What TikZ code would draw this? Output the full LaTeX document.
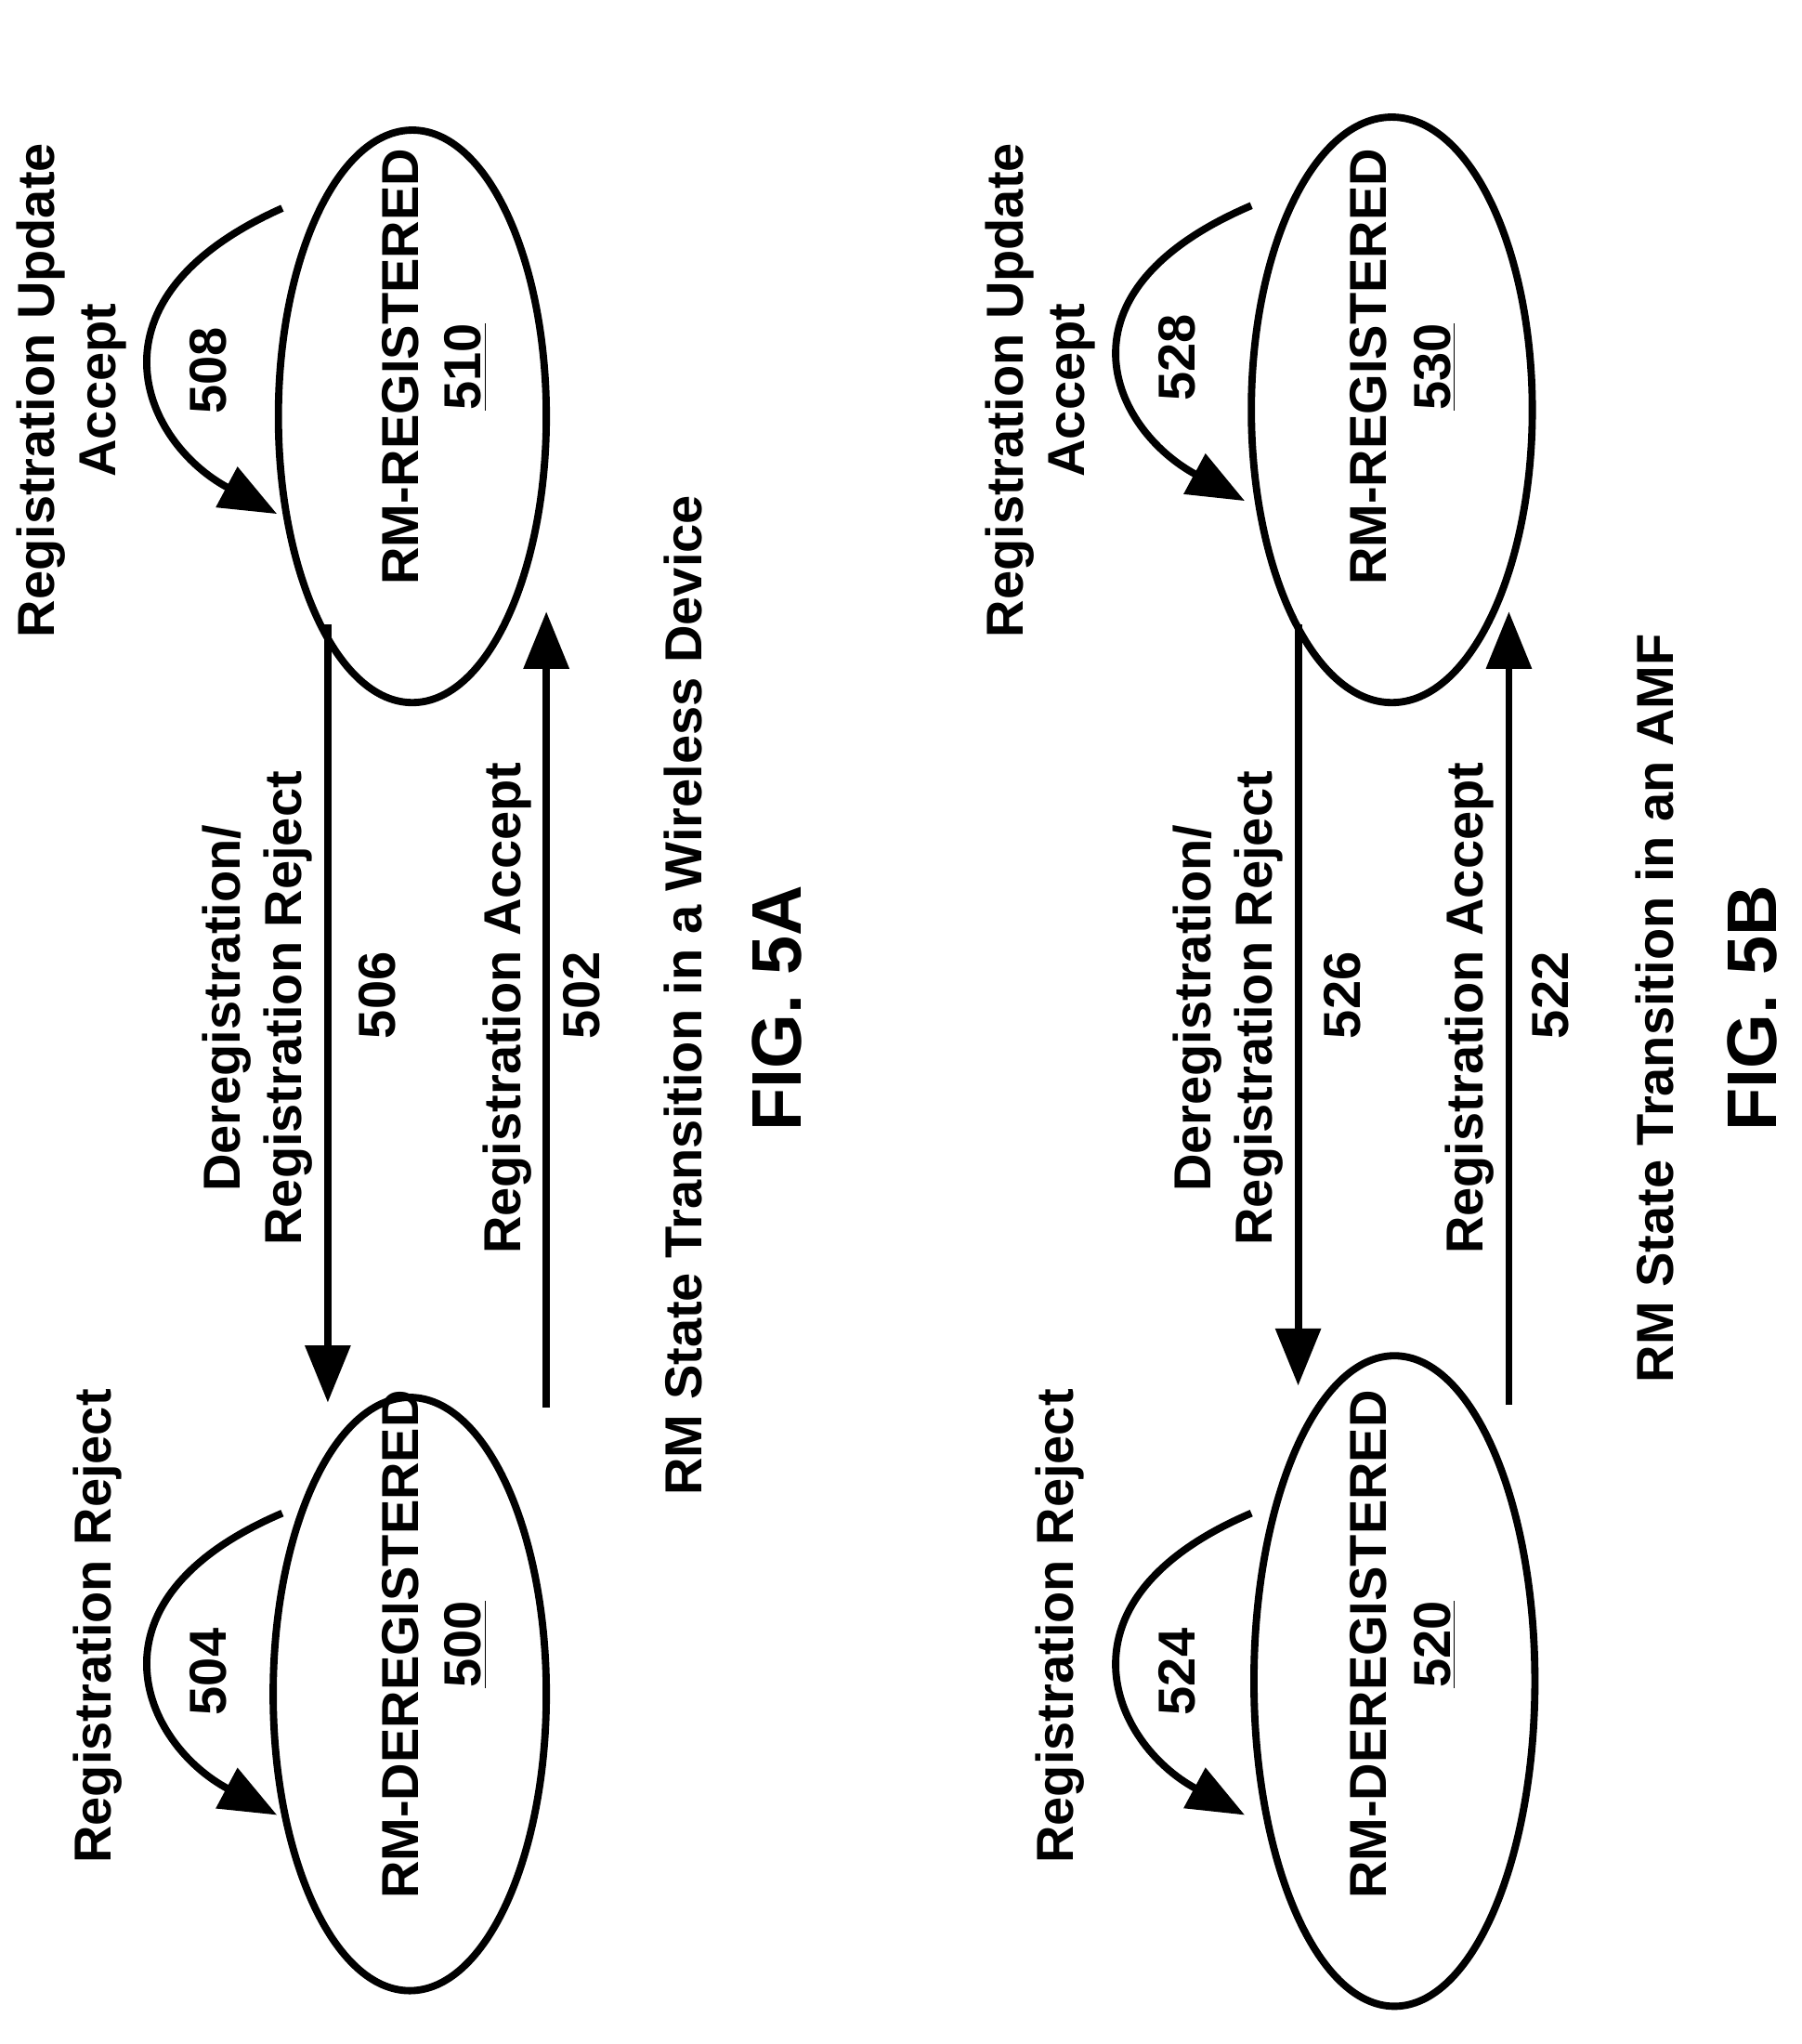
\documentclass[tikz,border=0pt]{standalone}
\usepackage{fontspec}
\setmainfont{Liberation Sans}
\usetikzlibrary{arrows.meta,shapes.geometric}
\begin{document}
\begin{tikzpicture}[x=0.5pt,y=-0.5pt,
  st/.style={draw,ellipse,line width=2.8pt,inner sep=0pt},
  lab/.style={rotate=90,font=\bfseries\fontsize{20}{23.5}\selectfont,align=center,inner sep=0pt},
  fig/.style={rotate=90,font=\bfseries\fontsize{27}{30}\selectfont,inner sep=0pt},
  ar/.style={line width=2.8pt,-{Triangle[length=22pt,width=17pt]}}]
\useasboundingbox (0,0) rectangle (1385,1571);
% FIG 5A
\node[st,minimum width=103pt,minimum height=220pt] (r510) at (317,320) {};
\node[st,minimum width=105pt,minimum height=228pt] (r500) at (315,1302) {};
\node[lab] (t510) at (308,282) {RM-REGISTERED};
\node[lab] (n510) at (358,282) {\underline{510}};
\node[lab] (t500) at (308,1264) {RM-DEREGISTERED};
\node[lab] (n500) at (358,1264) {\underline{500}};
\coordinate (a1s) at (252,480); \coordinate (a1e) at (252,1078);
\coordinate (a2s) at (420,1082); \coordinate (a2e) at (420,470);
\draw[ar] (a1s) -- (a1e);
\draw[ar] (a2s) -- (a2e);
\node[lab] (l506) at (198,775) {Deregistration/\\Registration Reject};
\node[lab] (n506) at (290,765) {506};
\node[lab] (l502) at (390,775) {Registration Accept};
\node[lab] (n502) at (447,765) {502};
\node[lab] (c5a) at (525,765) {RM State Transition in a Wireless Device};
\node[fig] (f5a) at (597,775) {FIG. 5A};
\coordinate (s1) at (217,160); \coordinate (e1) at (213,395);
\draw[ar] (s1) .. controls (60,230) and (110,340) .. (e1);
\node[lab] (n508) at (160,285) {508};
\node[lab] (l508) at (55,300) {Registration Update\\Accept};
\coordinate (s2) at (217,1163); \coordinate (e2) at (213,1395);
\draw[ar] (s2) .. controls (60,1230) and (110,1340) .. (e2);
\node[lab] (n504) at (160,1285) {504};
\node[lab] (l504) at (75,1250) {Registration Reject};
% FIG 5B
\node[st,minimum width=108pt,minimum height=225pt] (r530) at (1070,315) {};
\node[st,minimum width=108pt,minimum height=250pt] (r520) at (1072,1292) {};
\node[lab] (t530) at (1052,282) {RM-REGISTERED};
\node[lab] (n530) at (1103,282) {\underline{530}};
\node[lab] (t520) at (1052,1264) {RM-DEREGISTERED};
\node[lab] (n520) at (1103,1264) {\underline{520}};
\coordinate (b1s) at (998,480); \coordinate (b1e) at (998,1065);
\coordinate (b2s) at (1160,1080); \coordinate (b2e) at (1160,470);
\draw[ar] (b1s) -- (b1e);
\draw[ar] (b2s) -- (b2e);
\node[lab] (l526) at (944,775) {Deregistration/\\Registration Reject};
\node[lab] (n526) at (1032,765) {526};
\node[lab] (l522) at (1130,775) {Registration Accept};
\node[lab] (n522) at (1192,765) {522};
\node[lab] (c5b) at (1272,775) {RM State Transition in an AMF};
\node[fig] (f5b) at (1347,775) {FIG. 5B};
\coordinate (s3) at (962,158); \coordinate (e3) at (957,385);
\draw[ar] (s3) .. controls (805,225) and (855,330) .. (e3);
\node[lab] (n528) at (905,275) {528};
\node[lab] (l528) at (800,300) {Registration Update\\Accept};
\coordinate (s4) at (962,1163); \coordinate (e4) at (957,1395);
\draw[ar] (s4) .. controls (805,1230) and (855,1340) .. (e4);
\node[lab] (n524) at (905,1285) {524};
\node[lab] (l524) at (815,1250) {Registration Reject};
\end{tikzpicture}
\end{document}
